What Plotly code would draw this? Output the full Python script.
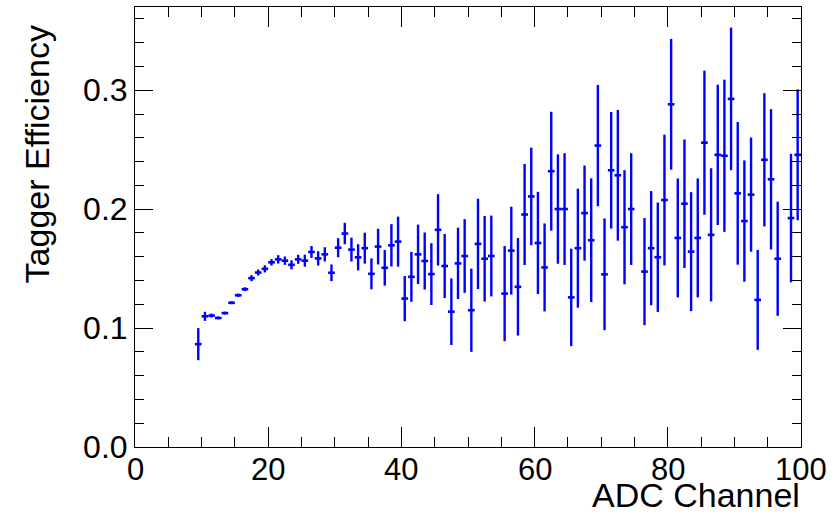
import plotly.graph_objects as go

# bin centres (ADC channel) and efficiency values with errors
adc_channel = [9.5, 10.5, 11.5, 12.5, 13.5, 14.5, 15.5, 16.5, 17.5, 18.5, 19.5,
               20.5, 21.5, 22.5, 23.5, 24.5, 25.5, 26.5, 27.5, 28.5, 29.5,
               30.5, 31.5, 32.5, 33.5, 34.5, 35.5, 36.5, 37.5, 38.5, 39.5,
               40.5, 41.5, 42.5, 43.5, 44.5, 45.5, 46.5, 47.5, 48.5, 49.5,
               50.5, 51.5, 52.5, 53.5, 55.5, 56.5, 57.5, 58.5, 59.5,
               60.5, 61.5, 62.5, 63.5, 64.5, 65.5, 66.5, 67.5, 68.5, 69.5,
               70.5, 71.5, 72.5, 73.5, 74.5, 76.5, 77.5, 78.5, 79.5,
               80.5, 81.5, 82.5, 83.5, 84.5, 85.5, 86.5, 87.5, 88.5, 89.5,
               90.5, 91.5, 92.5, 93.5, 94.5, 95.5, 96.5, 98.5, 99.5]

efficiency = [0.0865, 0.1099, 0.1105, 0.1085, 0.1126, 0.1213, 0.1276, 0.1327, 0.1420, 0.1467, 0.1498,
              0.1553, 0.1578, 0.1567, 0.1532, 0.1578, 0.1567, 0.1640, 0.1586, 0.1620, 0.1465,
              0.1676, 0.1795, 0.1660, 0.1595, 0.1672, 0.1456, 0.1685, 0.1507, 0.1696, 0.1727,
              0.1248, 0.1431, 0.1620, 0.1564, 0.1454, 0.1826, 0.1522, 0.1138, 0.1544, 0.1606,
              0.1150, 0.1708, 0.1583, 0.1606, 0.1290, 0.1651, 0.1347, 0.1955, 0.2107,
              0.1716, 0.1510, 0.2319, 0.2001, 0.2001, 0.1258, 0.1672, 0.1967, 0.1739, 0.2535,
              0.1452, 0.2327, 0.2285, 0.1848, 0.2001, 0.1475, 0.1672, 0.1596, 0.2077,
              0.2882, 0.1758, 0.2046, 0.1643, 0.1758, 0.2559, 0.1784, 0.2457, 0.2449, 0.2927,
              0.2133, 0.1900, 0.2122, 0.1237, 0.2415, 0.2251, 0.1583, 0.1925, 0.2457]

efficiency_err = [0.0135, 0.0038, 0.0017, 0.0012, 0.0012, 0.0013, 0.0014, 0.0016, 0.0025, 0.0025, 0.0030,
                  0.0027, 0.0035, 0.0035, 0.0038, 0.0038, 0.0050, 0.0050, 0.0060, 0.0060, 0.0070,
                  0.0080, 0.0090, 0.0100, 0.0110, 0.0130, 0.0130, 0.0150, 0.0150, 0.0178, 0.0210,
                  0.0190, 0.0210, 0.0250, 0.0240, 0.0260, 0.0300, 0.0270, 0.0280, 0.0300, 0.0310,
                  0.0350, 0.0380, 0.0360, 0.0340, 0.0400, 0.0370, 0.0410, 0.0425, 0.0410,
                  0.0430, 0.0370, 0.0500, 0.0460, 0.0470, 0.0410, 0.0500, 0.0400, 0.0520, 0.0510,
                  0.0470, 0.0490, 0.0550, 0.0480, 0.0470, 0.0450, 0.0480, 0.0460, 0.0550,
                  0.0550, 0.0500, 0.0540, 0.0500, 0.0500, 0.0606, 0.0560, 0.0590, 0.0640, 0.0600,
                  0.0600, 0.0510, 0.0480, 0.0420, 0.0560, 0.0590, 0.0480, 0.0540, 0.0550]

bin_half_width = [0.5] * len(adc_channel)

x_tick_vals = [0, 20, 40, 60, 80, 100]
x_tick_text = ["0", "20", "40", "60", "80", "100"]
y_tick_vals = [0.0, 0.1, 0.2, 0.3]
y_tick_text = ["0.0", "0.1", "0.2", "0.3"]

BLUE = "#0000ff"
FONT = "Liberation Sans, Arial, Helvetica, sans-serif"

fig = go.Figure()
fig.add_trace(go.Scatter(
    x=adc_channel, y=efficiency, mode="markers",
    marker=dict(size=1, color=BLUE, opacity=0),
    error_y=dict(type="data", array=efficiency_err, visible=True,
                 color=BLUE, thickness=2.4, width=0),
    error_x=dict(type="data", array=bin_half_width, visible=True,
                 color=BLUE, thickness=2.6, width=0),
    showlegend=False, hoverinfo="x+y",
))

axis_common = dict(
    showgrid=False, zeroline=False, showline=True, linecolor="black", linewidth=1,
    mirror="ticks", ticks="inside", tickcolor="black", tickwidth=1,
    tickfont=dict(family=FONT, size=32, color="black"),
)

fig.update_xaxes(
    range=[0, 100], tickvals=x_tick_vals, ticktext=x_tick_text, ticklen=20,
    showticklabels=False,
    minor=dict(dtick=5, ticks="inside", ticklen=10, tickcolor="black", tickwidth=1, showgrid=False),
    **axis_common,
)
fig.update_yaxes(
    range=[0, 0.37], tickvals=y_tick_vals, ticktext=y_tick_text, ticklen=18,
    minor=dict(dtick=0.02, ticks="inside", ticklen=9, tickcolor="black", tickwidth=1, showgrid=False),
    **axis_common,
)

# x tick labels placed just under the axis (ROOT style)
for v, t in zip(x_tick_vals, x_tick_text):
    fig.add_annotation(text=t, x=v, xref="x", y=-0.008, yref="paper",
                       xanchor="center", yanchor="top", showarrow=False,
                       borderpad=0, font=dict(family=FONT, size=31, color="black"))

fig.add_annotation(text="ADC Channel", xref="paper", yref="paper", x=1.0, y=-0.11,
                   xanchor="right", yanchor="middle", showarrow=False, borderpad=0,
                   font=dict(family=FONT, size=34, color="black"))
fig.add_annotation(text="Tagger Efficiency", xref="paper", yref="paper", x=-0.147, y=0.963,
                   xanchor="center", yanchor="top", textangle=-90, showarrow=False,
                   font=dict(family=FONT, size=34, color="black"))

fig.update_layout(
    width=840, height=525,
    margin=dict(l=135, r=39, t=7, b=78),
    paper_bgcolor="white", plot_bgcolor="white",
)

fig.write_html("out.html")
